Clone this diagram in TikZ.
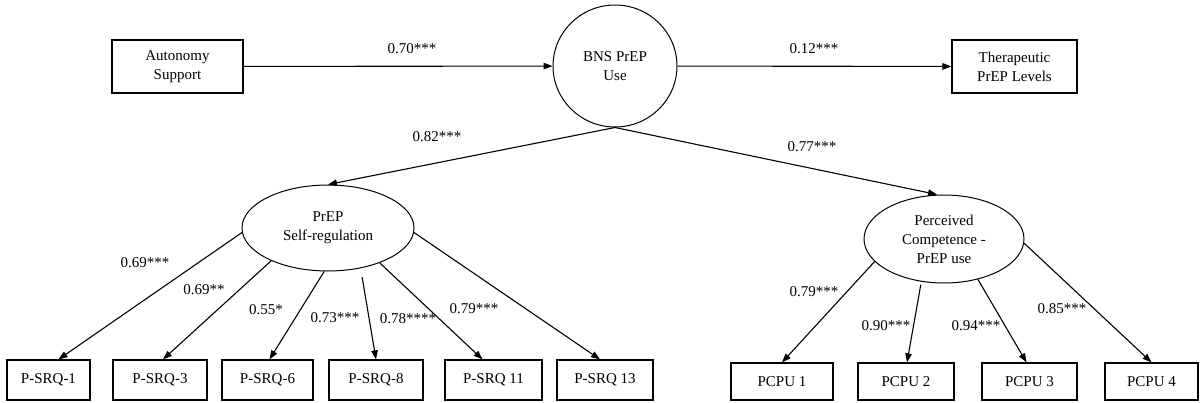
\documentclass[tikz,border=0pt]{standalone}
\usepackage{fontspec}
\setmainfont{Liberation Serif}
\usetikzlibrary{arrows.meta,shapes.geometric}
\begin{document}
\begin{tikzpicture}[x=1pt, y=-1pt,
    every node/.style={font=\fontsize{15}{19}\selectfont},
    box/.style={draw, line width=1.2pt, align=center, inner sep=0pt, minimum height=53},
    ind/.style={draw, line width=1.2pt, inner sep=0pt, minimum height=40},
    latent/.style={draw, ellipse, line width=1pt, align=center, inner sep=0pt},
    path/.style={-{Triangle[length=9pt,width=6.5pt]}, line width=1.1pt},
    coef/.style={inner sep=0pt}]
  \path[use as bounding box, fill=white] (0,0) rectangle (1201,402);
  \node[box, minimum width=131] (as) at (177.5,66.5) {Autonomy\\Support};
  \node[latent, minimum width=124, minimum height=122] (bns) at (615,66) {BNS PrEP\\Use};
  \node[box, minimum width=125] (tpl) at (1014.5,66.5) {Therapeutic\\PrEP Levels};
  \node[latent, minimum width=172, minimum height=86] (sr) at (328,228) {PrEP\\Self-regulation};
  \node[latent, minimum width=160, minimum height=88] (pc) at (944,239) {Perceived\\Competence -\\PrEP use};
  \node[ind, minimum width=83] (q1) at (48.5,380) {P-SRQ-1};
  \node[ind, minimum width=94] (q3) at (160,380) {P-SRQ-3};
  \node[ind, minimum width=91] (q6) at (267.5,380) {P-SRQ-6};
  \node[ind, minimum width=94] (q8) at (376,380) {P-SRQ-8};
  \node[ind, minimum width=97] (q11) at (493.5,380) {P-SRQ 11};
  \node[ind, minimum width=96] (q13) at (605,380) {P-SRQ 13};
  \node[ind, minimum width=102, minimum height=37] (c1) at (782,381.5) {PCPU 1};
  \node[ind, minimum width=96, minimum height=37] (c2) at (906,381.5) {PCPU 2};
  \node[ind, minimum width=95, minimum height=37] (c3) at (1029.5,381.5) {PCPU 3};
  \node[ind, minimum width=93, minimum height=37] (c4) at (1151.5,381.5) {PCPU 4};
  \draw[path] (as) -- (bns);
  \draw[path] (bns) -- (tpl);
  \draw[path] (bns.south) -- (sr.north);
  \draw[path] (bns.south) -- ([xshift=-7pt]pc.north);
  \draw[path] (sr.183) -- ([xshift=10pt]q1.north);
  \draw[path] (sr.210) -- ([xshift=3pt]q3.north);
  \draw[path] (sr.265) -- ([xshift=2pt]q6.north);
  \draw[path, shorten <=9pt] (sr.309) -- (q8.north);
  \draw[path] (sr.326) -- ([xshift=-11pt]q11.north);
  \draw[path] (sr.357) -- ([xshift=-5pt]q13.north);
  \draw[path] (pc.198) -- (c1.north);
  \draw[path, shorten <=3pt] (pc.242) -- ([xshift=1pt]c2.north);
  \draw[path] (pc.310) -- ([xshift=-3pt]c3.north);
  \draw[path] (pc.357) -- (c4.north);
  \node[coef] (k70) at (412,49) {0.70***};
  \node[coef] (k12) at (814,49) {0.12***};
  \node[coef] (k82) at (437,137) {0.82***};
  \node[coef] (k77) at (812,147) {0.77***};
  \node[coef] (kq1) at (145,263) {0.69***};
  \node[coef] (kq3) at (204,290) {0.69**};
  \node[coef] (kq6) at (266,310) {0.55*};
  \node[coef] (kq8) at (335,318) {0.73***};
  \node[coef] (kq11) at (408,319) {0.78****};
  \node[coef] (kq13) at (474,309) {0.79***};
  \node[coef] (kc1) at (814,292) {0.79***};
  \node[coef] (kc2) at (886,326) {0.90***};
  \node[coef] (kc3) at (976,326) {0.94***};
  \node[coef] (kc4) at (1062,309) {0.85***};
\end{tikzpicture}
\end{document}
